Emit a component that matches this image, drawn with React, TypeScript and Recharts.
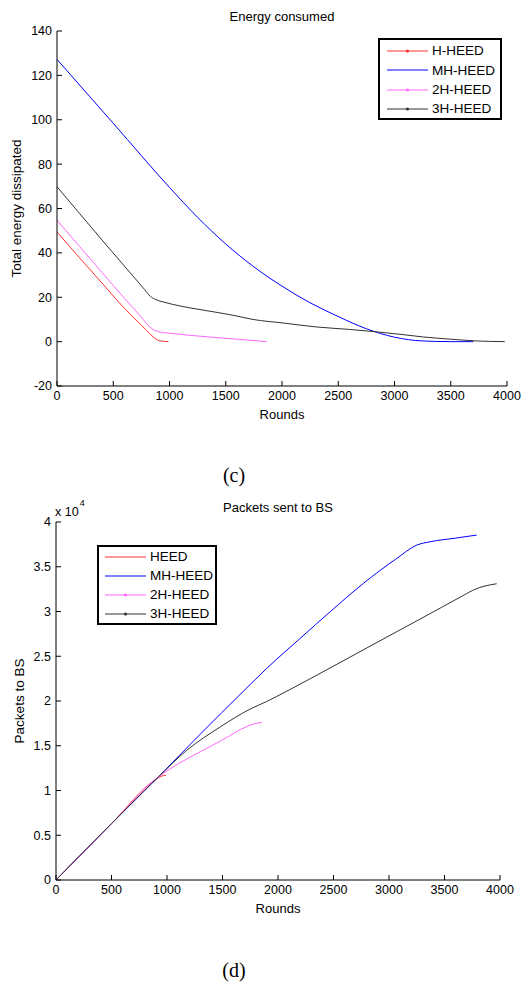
import React from 'react';
import { LineChart, Line, XAxis, YAxis, Legend } from 'recharts';

const SANS = '"Liberation Sans", Arial, Helvetica, sans-serif';
const SERIF = '"Liberation Serif", "Times New Roman", serif';

// (c) Energy consumed
const hheedRounds = [0, 200, 400, 600, 750, 820, 870, 920, 990];
const hheedEnergy = [49.4, 37.8, 26.4, 15, 7.4, 3.8, 1.5, 0.3, 0];

const mhheedRounds = [0, 500, 1000, 1250, 1500, 1750, 2000, 2250, 2500, 2750, 3000, 3250, 3500, 3700];
const mhheedEnergy = [127.2, 98.4, 69.5, 56, 44, 33.7, 25, 17.5, 11.3, 5.8, 2, 0.3, 0, 0];

const h2heedRounds = [0, 200, 400, 600, 750, 820, 870, 920, 1000, 1167, 1400, 1650, 1864];
const h2heedEnergy = [54.7, 42.9, 31.2, 19.5, 11, 6.8, 5, 4.3, 3.8, 2.9, 1.9, 0.9, 0];

const h3heedRounds = [0, 200, 400, 600, 780, 830, 880, 950, 1100, 1300, 1564, 1742, 2009, 2308, 2600, 2841, 3050, 3256, 3500, 3730, 3980];
const h3heedEnergy = [69.8, 57.8, 45.8, 34, 23.4, 20.4, 18.9, 17.8, 16, 14.2, 11.9, 10, 8.4, 6.6, 5.5, 4.4, 3.3, 2.1, 1.1, 0.3, 0];

// (d) Packets sent to BS
const heedRoundsD = [0, 500, 900, 950, 990];
const heedPackets = [0, 6300, 11250, 11600, 11700];

const mhheedRoundsD = [0, 500, 924, 1300, 1689, 1899, 2200, 2470, 2769, 3070, 3250, 3370, 3600, 3790];
const mhheedPackets = [0, 6300, 11540, 16300, 21100, 23650, 27000, 29970, 33140, 35930, 37420, 37790, 38200, 38540];

const h2heedRoundsD = [0, 500, 924, 1000, 1300, 1500, 1719, 1800, 1855];
const h2heedPackets = [0, 6300, 11540, 12200, 14330, 15650, 17150, 17500, 17600];

const h3heedRoundsD = [0, 500, 924, 1179, 1479, 1749, 1899, 2080, 2500, 3100, 3250, 3700, 3760, 3970];
const h3heedPackets = [0, 6300, 11540, 14500, 17100, 19100, 19950, 21100, 23900, 27950, 28950, 32000, 32400, 33100];

const roundTicks = [0, 500, 1000, 1500, 2000, 2500, 3000, 3500, 4000];
const energyTicks = [-20, 0, 20, 40, 60, 80, 100, 120, 140];
const packetTicks = [0, 5000, 10000, 15000, 20000, 25000, 30000, 35000, 40000];

const energyOrder = ['H-HEED', 'MH-HEED', '2H-HEED', '3H-HEED'];
const packetOrder = ['HEED', 'MH-HEED', '2H-HEED', '3H-HEED'];

const RED = '#ff3030';
const BLUE = '#0000ff';
const PINK = '#ff66ff';
const BLACK = '#333333';

function toPoints(rounds: number[], values: number[]) {
  return rounds.map((round, i) => ({ round, value: values[i] }));
}

const tickStyle = { fill: '#000', fontSize: 12.5, fontFamily: SANS };

function BoxLegend({ payload, markers, order, box }: any) {
  const items = [...(payload || [])].sort(
    (a: any, b: any) => order.indexOf(a.value) - order.indexOf(b.value)
  );
  return (
    <div
      style={{
        width: box.width,
        height: box.height,
        boxSizing: 'border-box',
        border: '2px solid #000',
        background: '#fff',
        paddingTop: box.padTop,
        fontFamily: SANS,
        fontSize: 13.5,
        color: '#000',
      }}
    >
      {items.map((entry: any) => (
        <div key={entry.value} style={{ display: 'flex', alignItems: 'center', height: box.rowHeight }}>
          <svg width={41} height={8} style={{ marginLeft: box.lineLeft, marginRight: 4, flex: 'none' }}>
            <line x1={0} y1={4} x2={41} y2={4} stroke={entry.color} strokeWidth={1} />
            {markers.includes(entry.value) && <circle cx={20.5} cy={4} r={1.6} fill={entry.color} />}
          </svg>
          <span style={{ lineHeight: 1, whiteSpace: 'nowrap' }}>{entry.value}</span>
        </div>
      ))}
    </div>
  );
}

function EnergyChart() {
  return (
    <LineChart width={523} height={430} margin={{ top: 31, right: 16, bottom: 0, left: 0 }}>
      <XAxis
        type="number"
        dataKey="round"
        domain={[0, 4000]}
        ticks={roundTicks}
        height={44}
        tickSize={-5}
        tickMargin={10}
        tick={tickStyle}
        axisLine={{ stroke: '#000' }}
        tickLine={{ stroke: '#000' }}
        label={{ value: 'Rounds', position: 'center', dy: 6, fill: '#000', fontSize: 13, fontFamily: SANS }}
      />
      <YAxis
        type="number"
        domain={[-20, 140]}
        ticks={energyTicks}
        width={57}
        tickSize={-5}
        tickMargin={10}
        tick={tickStyle}
        axisLine={{ stroke: '#000' }}
        tickLine={{ stroke: '#000' }}
        label={{ value: 'Total energy dissipated', angle: -90, position: 'center', dx: -12.5, fill: '#000', fontSize: 13.5, fontFamily: SANS }}
      />
      <Legend
        layout="vertical"
        align="center"
        verticalAlign="middle"
        wrapperStyle={{ left: 378, top: 38, width: 124, height: 82 }}
        content={(props: any) => (
          <BoxLegend
            payload={props.payload}
            order={energyOrder}
            markers={['H-HEED', '2H-HEED', '3H-HEED']}
            box={{ width: 124, height: 82, padTop: 1.4, rowHeight: 19.3, lineLeft: 7 }}
          />
        )}
      />
      <Line data={toPoints(hheedRounds, hheedEnergy)} dataKey="value" name="H-HEED" type="monotone" stroke={RED} strokeWidth={1} dot={false} isAnimationActive={false} />
      <Line data={toPoints(mhheedRounds, mhheedEnergy)} dataKey="value" name="MH-HEED" type="monotone" stroke={BLUE} strokeWidth={1} dot={false} isAnimationActive={false} />
      <Line data={toPoints(h2heedRounds, h2heedEnergy)} dataKey="value" name="2H-HEED" type="monotone" stroke={PINK} strokeWidth={1} dot={false} isAnimationActive={false} />
      <Line data={toPoints(h3heedRounds, h3heedEnergy)} dataKey="value" name="3H-HEED" type="monotone" stroke={BLACK} strokeWidth={1} dot={false} isAnimationActive={false} />
    </LineChart>
  );
}

function PacketsChart() {
  return (
    <LineChart width={523} height={444} margin={{ top: 42, right: 23, bottom: 0, left: 0 }}>
      <XAxis
        type="number"
        dataKey="round"
        domain={[0, 4000]}
        ticks={roundTicks}
        height={44}
        tickSize={-5}
        tickMargin={10}
        tick={tickStyle}
        axisLine={{ stroke: '#000' }}
        tickLine={{ stroke: '#000' }}
        label={{ value: 'Rounds', position: 'center', dy: 6, fill: '#000', fontSize: 13, fontFamily: SANS }}
      />
      <YAxis
        type="number"
        domain={[0, 40000]}
        ticks={packetTicks}
        tickFormatter={(v: number) => String(v / 10000)}
        width={56}
        tickSize={-5}
        tickMargin={10}
        tick={tickStyle}
        axisLine={{ stroke: '#000' }}
        tickLine={{ stroke: '#000' }}
        label={{ value: 'Packets to BS', angle: -90, position: 'center', dx: -9, fill: '#000', fontSize: 13.5, fontFamily: SANS }}
      />
      <Legend
        layout="vertical"
        align="center"
        verticalAlign="middle"
        wrapperStyle={{ left: 97, top: 65, width: 120, height: 80 }}
        content={(props: any) => (
          <BoxLegend
            payload={props.payload}
            order={packetOrder}
            markers={['2H-HEED', '3H-HEED']}
            box={{ width: 120, height: 80, padTop: 0.5, rowHeight: 19, lineLeft: 6 }}
          />
        )}
      />
      <Line data={toPoints(heedRoundsD, heedPackets)} dataKey="value" name="HEED" type="monotone" stroke={RED} strokeWidth={1} dot={false} isAnimationActive={false} />
      <Line data={toPoints(mhheedRoundsD, mhheedPackets)} dataKey="value" name="MH-HEED" type="monotone" stroke={BLUE} strokeWidth={1} dot={false} isAnimationActive={false} />
      <Line data={toPoints(h2heedRoundsD, h2heedPackets)} dataKey="value" name="2H-HEED" type="monotone" stroke={PINK} strokeWidth={1} dot={false} isAnimationActive={false} />
      <Line data={toPoints(h3heedRoundsD, h3heedPackets)} dataKey="value" name="3H-HEED" type="monotone" stroke={BLACK} strokeWidth={1} dot={false} isAnimationActive={false} />
    </LineChart>
  );
}

const titleStyle: React.CSSProperties = {
  position: 'absolute',
  textAlign: 'center',
  fontFamily: SANS,
  fontSize: 13,
  lineHeight: '16px',
  color: '#000',
};

const captionStyle: React.CSSProperties = {
  position: 'absolute',
  left: 184,
  width: 100,
  textAlign: 'center',
  fontFamily: SERIF,
  fontSize: 20,
  lineHeight: '24px',
  color: '#000',
};

export default function App() {
  return (
    <div style={{ position: 'absolute', left: 0, top: 0, width: 523, height: 983, background: '#fff' }}>
      <div style={{ position: 'absolute', left: 0, top: 0 }}>
        <EnergyChart />
      </div>
      <div style={{ position: 'absolute', left: 0, top: 480 }}>
        <PacketsChart />
      </div>
      <div style={{ ...titleStyle, left: 57, width: 450, top: 9 }}>Energy consumed</div>
      <div style={{ ...titleStyle, left: 56, width: 444, top: 500 }}>Packets sent to BS</div>
      <div style={{ position: 'absolute', left: 55, top: 505, fontFamily: SANS, fontSize: 12.5, lineHeight: '14px', color: '#000', whiteSpace: 'nowrap' }}>
        x 10<span style={{ position: 'relative', top: -10, fontSize: 9, marginLeft: 1 }}>4</span>
      </div>
      <div style={{ ...captionStyle, top: 463 }}>(c)</div>
      <div style={{ ...captionStyle, top: 958 }}>(d)</div>
    </div>
  );
}
